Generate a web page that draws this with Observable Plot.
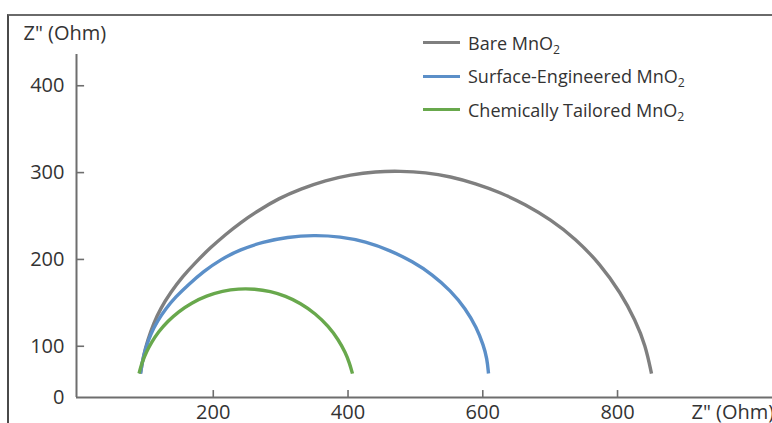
<!DOCTYPE html>
<html>
<head>
<meta charset="utf-8">
<script src="https://cdn.jsdelivr.net/npm/d3@7"></script>
<script src="https://cdn.jsdelivr.net/npm/@observablehq/plot@0.6"></script>
<style>
  html, body { margin: 0; padding: 0; background: #fff; overflow: hidden; }
  #wrap { position: relative; width: 772px; height: 423px; overflow: hidden; background: #fff; }
  #border { position: absolute; left: 7px; top: 14px; width: 800px; height: 450px;
            border-top: 2px solid #6a6a6a; border-left: 2px solid #4a4a4a; pointer-events: none; z-index: 3; }
  #legend { position: absolute; left: 423px; top: 26px; z-index: 2;
            font-family: 'Open Sans', sans-serif; font-size: 18px; color: #333; }
  #legend .row { display: flex; align-items: center; height: 33.5px; }
  #legend .sw { width: 37px; height: 3px; margin-right: 8px; }
  #legend sub { font-size: 0.68em; vertical-align: -0.35em; line-height: 0; }
</style>
</head>
<body>
<div id="wrap">
  <div id="chart"></div>
  <div id="legend"></div>
  <div id="border"></div>
</div>
<script>
// ---- data ----
const seriesNames = ["Bare MnO2", "Surface-Engineered MnO2", "Chemically Tailored MnO2"];
const seriesColors = ["#7f7f7f", "#5b8fc8", "#68a84c"];

const xTicks = [200, 400, 600, 800];
const yTicks = [100, 200, 300, 400];
const originLabel = ["0"];
const xLabel = ['Z" (Ohm)'];
const yLabel = ['Z" (Ohm)'];

const bareX = [92.0, 96.4, 102.4, 111.3, 121.7, 136.5, 154.3, 173.6, 195.9, 218.1, 240.4, 267.1, 296.8, 329.5, 366.6, 403.7, 440.8, 477.9, 515.0, 552.1, 589.2, 626.3, 663.4, 700.5, 737.6, 774.7, 804.4, 826.7, 841.5, 850.4];
const bareY = [68.6, 89.4, 106.6, 126.2, 143.5, 161.9, 180.3, 196.5, 213.7, 228.7, 242.5, 256.4, 270.2, 281.2, 291.0, 297.6, 301.2, 301.8, 300.1, 295.5, 287.4, 277.1, 263.3, 246.0, 224.1, 194.2, 161.9, 129.7, 100.9, 68.6];

const surfX = [92.0, 95.0, 99.4, 106.8, 117.2, 129.1, 143.9, 163.2, 185.5, 210.7, 240.4, 273.1, 310.2, 348.8, 388.8, 425.9, 463.0, 495.7, 525.4, 552.1, 574.4, 590.7, 601.1, 606.3, 608.5];
const surfY = [68.6, 83.6, 97.4, 113.6, 129.1, 142.9, 156.7, 171.1, 186.1, 199.9, 211.4, 220.1, 225.8, 228.1, 226.4, 220.7, 210.3, 197.6, 182.6, 164.2, 143.5, 121.6, 100.9, 85.9, 68.6];

const chemX = [89.8, 92.0, 95.0, 100.9, 108.3, 118.7, 132.1, 148.4, 167.7, 189.9, 213.7, 237.4, 261.2, 284.9, 307.2, 329.5, 351.7, 371.0, 385.9, 396.2, 402.2, 406.6];
const chemY = [68.6, 75.2, 82.5, 93.6, 104.6, 116.7, 128.6, 139.9, 149.9, 158.1, 163.6, 166.3, 166.1, 163.3, 157.9, 149.6, 137.6, 123.0, 107.4, 92.5, 80.7, 68.5];

// ---- build table ----
const rows = [];
[[bareX, bareY], [surfX, surfY], [chemX, chemY]].forEach(([xs, ys], i) => {
  xs.forEach((x, j) => rows.push({series: seriesNames[i], x, y: ys[j]}));
});

const axisColor = "#6e6e6e";
const font = "'Open Sans', sans-serif";
const fs = 20;

const chart = Plot.plot({
  width: 772,
  height: 423,
  marginLeft: 76,
  marginRight: 0,
  marginTop: 54,
  marginBottom: 26,
  x: {domain: [-3, 1030], axis: null},
  y: {domain: [41, 436], axis: null},
  color: {domain: seriesNames, range: seriesColors},
  style: {fontFamily: font, fontSize: fs + "px", color: "#333", background: "transparent", overflow: "hidden"},
  marks: [
    Plot.line(rows, {x: "x", y: "y", z: "series", stroke: "series", strokeWidth: 3.4,
                     curve: "basis", strokeLinecap: "butt"}),
    Plot.ruleX([-3], {stroke: axisColor, strokeWidth: 2}),
    Plot.ruleY([41], {stroke: axisColor, strokeWidth: 2}),
    Plot.ruleY(yTicks, {y: d => d, x1: () => -3, x2: () => 9, stroke: axisColor, strokeWidth: 1.6}),
    Plot.ruleX(xTicks, {x: d => d, y1: () => 41, y2: () => 49, stroke: axisColor, strokeWidth: 1.6}),
    Plot.axisY({ticks: yTicks, tickSize: 0, tickPadding: 12, fontSize: fs, label: null, fill: "#333"}),
    Plot.axisX({ticks: xTicks, tickSize: 0, tickPadding: 7, fontSize: fs, label: null, fill: "#333"}),
    Plot.text(originLabel, {text: d => d, frameAnchor: "bottom-left", dx: -12, textAnchor: "end",
                            lineAnchor: "middle", fontSize: fs, fill: "#333"}),
    Plot.text(yLabel, {text: d => d, frameAnchor: "top-left", dx: -53, dy: -21, textAnchor: "start",
                       lineAnchor: "middle", fontSize: fs, fill: "#333"}),
    Plot.text(xLabel, {text: d => d, frameAnchor: "bottom-right", dx: -81, dy: 15, textAnchor: "start",
                       lineAnchor: "middle", fontSize: fs, fill: "#333"})
  ]
});
document.getElementById("chart").appendChild(chart);

// ---- legend ----
const legend = document.getElementById("legend");
seriesNames.forEach((name, i) => {
  const row = document.createElement("div");
  row.className = "row";
  const sw = document.createElement("div");
  sw.className = "sw";
  sw.style.background = seriesColors[i];
  const label = document.createElement("span");
  label.innerHTML = name.replace(/O2$/, "O<sub>2</sub>");
  row.appendChild(sw);
  row.appendChild(label);
  legend.appendChild(row);
});
</script>
</body>
</html>
